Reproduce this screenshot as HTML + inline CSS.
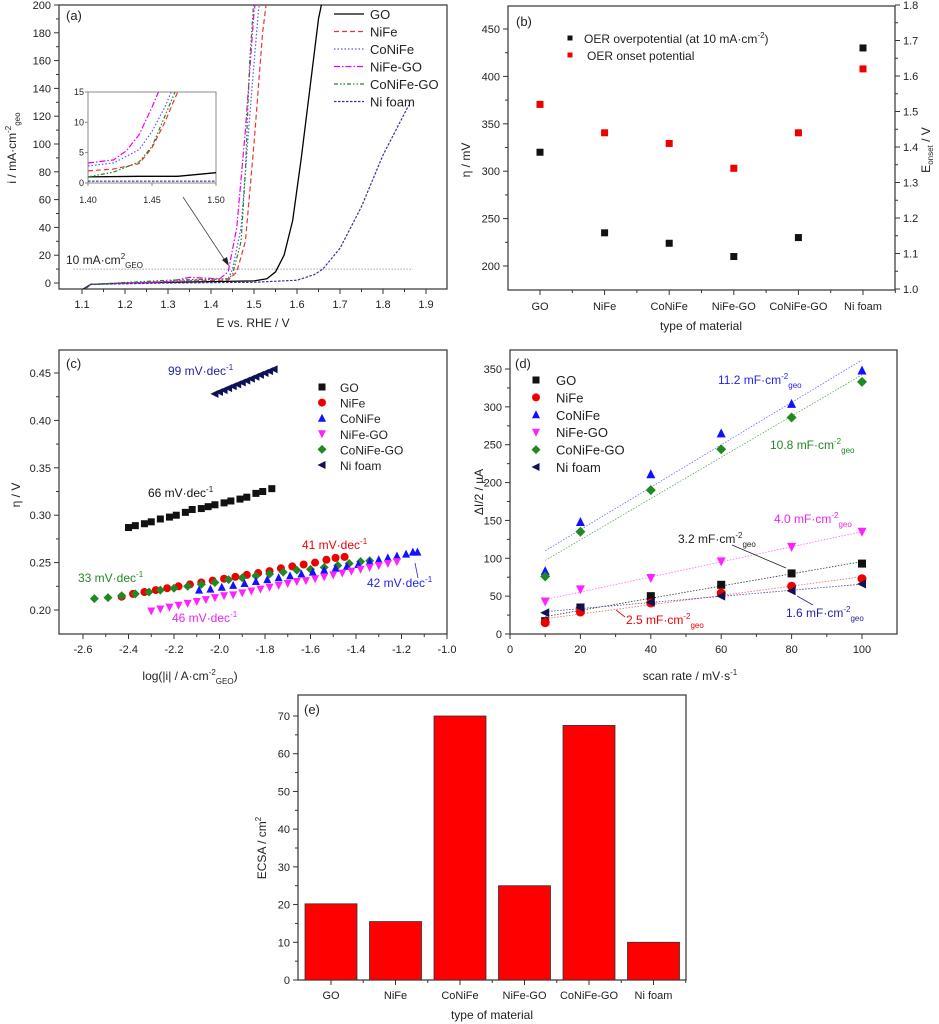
<!DOCTYPE html>
<html><head><meta charset="utf-8">
<style>
html,body{margin:0;padding:0;background:#fff;}
svg{display:block;font-family:"Liberation Sans",sans-serif;}
</style></head>
<body>
<svg id="fig" width="939" height="1024" viewBox="0 0 939 1024">
</svg>
<script>
// ---------- Panel (a) data ----------
const aGO_E   =[1.10,1.12,1.20,1.40,1.50,1.53,1.55,1.57,1.59,1.61,1.63,1.65,1.66];
const aGO_i   =[-5,-1,0,1,1.5,3,8,20,45,90,140,190,205];
const aNiFe_E =[1.105,1.12,1.30,1.44,1.46,1.48,1.50,1.52,1.53];
const aNiFe_i =[-5,-1,1,2,8,30,100,180,205];
const aCoNiFe_E=[1.105,1.12,1.30,1.44,1.45,1.47,1.49,1.51,1.515];
const aCoNiFe_i=[-5,-1,1,3,10,40,120,195,205];
const aNiFeGO_E=[1.105,1.12,1.30,1.35,1.42,1.44,1.46,1.48,1.50,1.505];
const aNiFeGO_i=[-5,-1,1,4,3,8,40,110,195,205];
const aCoNiFeGO_E=[1.105,1.12,1.30,1.44,1.45,1.47,1.48,1.49,1.50];
const aCoNiFeGO_i=[-5,-1,2,3,6,30,80,160,205];
const aNiFoam_E=[1.105,1.12,1.30,1.50,1.60,1.64,1.66,1.70,1.75,1.80,1.86];
const aNiFoam_i=[-5,-1,0,0.5,2,6,10,25,55,92,128];
// inset data
const inGO_E=[1.40,1.44,1.47,1.50]; const inGO_i=[1.0,1.1,1.1,1.7];
const inNiFe_E=[1.40,1.42,1.44,1.45,1.46,1.47]; const inNiFe_i=[2.0,2.3,3.2,5.8,10,15];
const inCoNiFe_E=[1.40,1.42,1.44,1.45,1.46,1.465]; const inCoNiFe_i=[2.8,3.3,5.5,8.5,12.5,15];
const inNiFeGO_E=[1.40,1.42,1.43,1.44,1.45,1.455]; const inNiFeGO_i=[3.3,3.8,5.3,8,12.5,15];
const inCoNiFeGO_E=[1.40,1.42,1.44,1.45,1.46,1.468]; const inCoNiFeGO_i=[1.0,1.8,3.5,6,11,15];
const inNiFoam_E=[1.40,1.50]; const inNiFoam_i=[0.3,0.3];
// ---------- Panel (b) data ----------
const bCategories=["GO","NiFe","CoNiFe","NiFe-GO","CoNiFe-GO","Ni foam"];
const bOverpotential=[320,235,224,210,230,430];
const bOnset=[1.52,1.44,1.41,1.34,1.44,1.62];
// ---------- Panel (c) data ----------
const cGO_x=[-2.40,-2.37,-2.33,-2.30,-2.26,-2.22,-2.19,-2.15,-2.12,-2.08,-2.05,-2.02,-1.98,-1.95,-1.91,-1.88,-1.84,-1.81,-1.77];
const cGO_y=[.287,.289,.291,.293,.296,.298,.300,.303,.306,.307,.309,.311,.313,.315,.317,.319,.323,.325,.328];
const cNiFoam_x=[-2.02,-2.0,-1.98,-1.96,-1.94,-1.92,-1.90,-1.88,-1.86,-1.84,-1.82,-1.80,-1.78,-1.76];
const cNiFoam_y=[.428,.430,.432,.434,.436,.438,.440,.442,.444,.446,.448,.450,.452,.454];
const cNiFe_x=[-2.43,-2.38,-2.33,-2.28,-2.23,-2.18,-2.13,-2.08,-2.03,-1.98,-1.93,-1.88,-1.83,-1.78,-1.73,-1.68,-1.63,-1.58,-1.53,-1.49,-1.45];
const cNiFe_y=[.214,.217,.219,.221,.223,.225,.227,.229,.231,.233,.235,.237,.239,.241,.244,.246,.248,.250,.253,.255,.256];
const cCoNiFeGO_x=[-2.55,-2.49,-2.43,-2.37,-2.31,-2.26,-2.20,-2.14,-2.08,-2.02,-1.96,-1.90,-1.84,-1.78,-1.72,-1.66,-1.60,-1.54,-1.48,-1.43,-1.38,-1.34];
const cCoNiFeGO_y=[.212,.213,.215,.217,.219,.221,.223,.225,.227,.229,.232,.234,.236,.238,.240,.242,.243,.245,.247,.249,.251,.252];
const cCoNiFe_x=[-2.09,-2.04,-1.99,-1.94,-1.89,-1.84,-1.79,-1.74,-1.69,-1.64,-1.59,-1.54,-1.49,-1.44,-1.39,-1.34,-1.30,-1.26,-1.22,-1.18,-1.15,-1.13];
const cCoNiFe_y=[.221,.222,.224,.226,.228,.230,.232,.234,.236,.238,.240,.242,.244,.246,.248,.251,.253,.255,.257,.259,.261,.261];
const cNiFeGO_x=[-2.30,-2.26,-2.22,-2.18,-2.14,-2.10,-2.06,-2.02,-1.98,-1.94,-1.90,-1.86,-1.82,-1.78,-1.74,-1.70,-1.66,-1.62,-1.58,-1.54,-1.50,-1.46,-1.42,-1.38,-1.34,-1.30,-1.26,-1.22];
const cNiFeGO_y=[.199,.201,.203,.205,.207,.209,.211,.213,.215,.216,.218,.220,.222,.224,.226,.228,.230,.231,.233,.235,.237,.239,.241,.243,.245,.247,.249,.251];
// ---------- Panel (d) data ----------
const dScanRates=[10,20,40,60,80,100];
const dGO=[17,35,50,65,80,93];
const dNiFe=[15,29,41,54,63,73];
const dCoNiFe=[83,148,211,265,304,348];
const dNiFeGO=[43,59,74,96,115,135];
const dCoNiFeGO=[76,135,190,244,286,333];
const dNiFoam=[28,35,42,50,57,66];
// ---------- Panel (e) data ----------
const eCategories=["GO","NiFe","CoNiFe","NiFe-GO","CoNiFe-GO","Ni foam"];
const eECSA=[20.2,15.5,70,25,67.5,10];

const svg=document.getElementById('fig');
const NS='http://www.w3.org/2000/svg';
function mk(tag,attrs,name,parent){
  const el=document.createElementNS(NS,tag);
  for(const k in attrs) el.setAttribute(k,attrs[k]);
  
  
  (parent||svg).appendChild(el);
  return el;
}
function txt(x,y,s,name,opts){
  opts=opts||{};
  const t=mk('text',{x:x,y:y,'font-size':opts.size||12,fill:opts.fill||'#222','text-anchor':opts.anchor||'middle'},name,opts.parent);
  if(opts.rot) t.setAttribute('transform','rotate(-90 '+x+' '+y+')');
  t.innerHTML=s;
  return t;
}
function lin(d0,d1,p0,p1){return v=>p0+(v-d0)*(p1-p0)/(d1-d0);}

function frame(x0,y0,x1,y1,name){
  mk('rect',{x:x0,y:y0,width:x1-x0,height:y1-y0,fill:'none',stroke:'#333','stroke-width':1.2},name);
}
function xTicks(sx,yb,min,max,step,minor,fmt,name,size){
  for(let v=min;v<=max+1e-9;v+=minor){
    const isMaj=Math.abs((v-min)/step-Math.round((v-min)/step))<1e-6;
    const x=sx(v);
    mk('line',{x1:x,y1:yb,x2:x,y2:yb+(isMaj?5:3),stroke:'#333','stroke-width':1},name+'-tick');
    if(isMaj) txt(x,yb+19,fmt(v),name+'-label',{size:size||11});
  }
}
function yTicks(sy,xl,min,max,step,minor,fmt,name,right){
  for(let v=min;v<=max+1e-9;v+=minor){
    const isMaj=Math.abs((v-min)/step-Math.round((v-min)/step))<1e-6;
    const y=sy(v);
    const d=right?1:-1;
    mk('line',{x1:xl,y1:y,x2:xl+d*(isMaj?5:3),y2:y,stroke:'#333','stroke-width':1},name+'-tick');
    if(isMaj) txt(xl+d*8,y+4,fmt(v),name+'-label',{size:11,anchor:right?'start':'end'});
  }
}
function polyline(xs,ys,sx,sy,style,name,clip){
  let d='';
  for(let i=0;i<xs.length;i++) d+=(i?'L':'M')+sx(xs[i]).toFixed(1)+','+sy(ys[i]).toFixed(1);
  const p=mk('path',Object.assign({d:d,fill:'none'},style),name);
  if(clip) p.setAttribute('clip-path','url(#'+clip+')');
  return p;
}
function marker(shape,x,y,color,s,name){
  s=s||4;
  if(shape==='sq') return mk('rect',{x:x-s,y:y-s,width:2*s,height:2*s,fill:color},name);
  if(shape==='ci') return mk('circle',{cx:x,cy:y,r:s+0.5,fill:color},name);
  let pts;
  if(shape==='up') pts=[[x,y-s-1],[x+s+0.5,y+s],[x-s-0.5,y+s]];
  if(shape==='dn') pts=[[x,y+s+1],[x+s+0.5,y-s],[x-s-0.5,y-s]];
  if(shape==='di') pts=[[x,y-s-1],[x+s+1,y],[x,y+s+1],[x-s-1,y]];
  if(shape==='lt') pts=[[x-s-1,y],[x+s,y-s-0.5],[x+s,y+s+0.5]];
  return mk('polygon',{points:pts.map(p=>p.join(',')).join(' '),fill:color},name);
}
const defs=mk('defs',{},'defs');
function clipRect(id,x,y,w,h){
  const c=mk('clipPath',{id:id},'clip',defs);
  mk('rect',{x:x,y:y,width:w,height:h},'clip-rect',c);
}

// ================= Panel (a) =================
{
  const sx=lin(1.1,1.9,82,426), sy=lin(0,200,283,5);
  clipRect('clipA',59,5,388,284);
  frame(59,5,447,289,'panel-a-frame');
  xTicks(sx,289,1.1,1.9,0.1,0.05,v=>v.toFixed(1),'a-x-axis');
  yTicks(sy,59,0,200,20,10,v=>v.toFixed(0),'a-y-axis');
  txt(253,327,'E vs. RHE / V','a-x-axis-title',{size:12});
  txt(16,148,'i / mA·cm<tspan font-size="8" dy="-5">-2</tspan><tspan font-size="8" dy="9">geo</tspan>','a-y-axis-title',{size:12,rot:true});
  txt(66,20,'(a)','a-panel-label',{size:13,anchor:'start'});
  mk('line',{x1:sx(1.08),y1:sy(10),x2:sx(1.87),y2:sy(10),stroke:'#888','stroke-width':0.8,'stroke-dasharray':'1.5,1.5'},'a-10ma-line');
  txt(66,264,'10 mA·cm<tspan font-size="8" dy="-5">2</tspan><tspan font-size="8" dy="9">GEO</tspan>','a-10ma-label',{size:12,anchor:'start'});
  const S=[
    [aGO_E,aGO_i,{stroke:'#000','stroke-width':1.3},'GO'],
    [aNiFe_E,aNiFe_i,{stroke:'#e33','stroke-width':1.2,'stroke-dasharray':'5,3'},'NiFe'],
    [aCoNiFe_E,aCoNiFe_i,{stroke:'#55f','stroke-width':1.2,'stroke-dasharray':'1.5,2'},'CoNiFe'],
    [aNiFeGO_E,aNiFeGO_i,{stroke:'#e0e','stroke-width':1.2,'stroke-dasharray':'6,2,1.5,2'},'NiFe-GO'],
    [aCoNiFeGO_E,aCoNiFeGO_i,{stroke:'#282','stroke-width':1.2,'stroke-dasharray':'4,2,1.5,2,1.5,2'},'CoNiFe-GO'],
    [aNiFoam_E,aNiFoam_i,{stroke:'#339','stroke-width':1.2,'stroke-dasharray':'2.5,1.5'},'Ni foam']
  ];
  S.forEach((s,k)=>{
    polyline(s[0],s[1],sx,sy,s[2],'a-curve-'+s[3].toLowerCase().replace(' ','-'),'clipA');
    const ly=14+k*17.5;
    mk('line',Object.assign({x1:334,y1:ly,x2:364,y2:ly},s[2]),'a-legend-swatch');
    txt(370,ly+5,s[3],'a-legend-entry',{size:13,anchor:'start'});
  });
  // inset
  const ix=lin(1.40,1.50,88,216), iy=lin(0,15,183,92);
  clipRect('clipIn',88,92,128,91);
  mk('rect',{x:88,y:92,width:128,height:91,fill:'#fff',stroke:'#888','stroke-width':1},'inset-frame');
  [1.40,1.45,1.50].forEach(v=>{txt(ix(v),203,v.toFixed(2),'inset-x-label',{size:9});
    mk('line',{x1:ix(v),y1:183,x2:ix(v),y2:186,stroke:'#888'},'inset-x-tick');});
  [0,5,10,15].forEach(v=>{txt(84,iy(v)+3,String(v),'inset-y-label',{size:9,anchor:'end'});
    mk('line',{x1:85,y1:iy(v),x2:88,y2:iy(v),stroke:'#888'},'inset-y-tick');});
  const I=[[inGO_E,inGO_i,S[0]],[inNiFe_E,inNiFe_i,S[1]],[inCoNiFe_E,inCoNiFe_i,S[2]],[inNiFeGO_E,inNiFeGO_i,S[3]],[inCoNiFeGO_E,inCoNiFeGO_i,S[4]],[inNiFoam_E,inNiFoam_i,S[5]]];
  I.forEach(s=>polyline(s[0],s[1],ix,iy,s[2][2],'inset-curve','clipIn'));
  mk('line',{x1:183,y1:197,x2:226,y2:262,stroke:'#444','stroke-width':0.8},'inset-arrow');
  mk('polygon',{points:'229,266 222,260 227,257',fill:'#222'},'inset-arrowhead');
}

// ================= Panel (b) =================
{
  const sy=lin(200,450,266,29), sy2=lin(1.0,1.8,289,5);
  const sx=i=>540+i*64.6;
  frame(508,6,895,290,'panel-b-frame');
  yTicks(sy,508,200,450,50,25,v=>v.toFixed(0),'b-left-axis');
  yTicks(sy2,895,1.0,1.8,0.1,0.05,v=>v.toFixed(1),'b-right-axis',true);
  for(let i=0;i<bCategories.length;i++){
    mk('line',{x1:sx(i),y1:290,x2:sx(i),y2:295,stroke:'#333'},'b-x-tick');
    mk('line',{x1:sx(i)+32.3,y1:290,x2:sx(i)+32.3,y2:293,stroke:'#333'},'b-x-minor-tick');
    txt(sx(i),310,bCategories[i],'b-x-label',{size:11});
  }
  txt(701,330,'type of material','b-x-axis-title',{size:12});
  txt(470,160,'η / mV','b-y-axis-title',{size:12,rot:true});
  txt(930,150,'E<tspan font-size="8" dy="3">onset</tspan><tspan dy="-3"> / V</tspan>','b-right-axis-title',{size:12,rot:true});
  txt(516,26,'(b)','b-panel-label',{size:13,anchor:'start'});
  bOverpotential.forEach((v,i)=>marker('sq',sx(i),sy(v),'#111',3.5,'b-overpotential-point'));
  bOnset.forEach((v,i)=>marker('sq',sx(i),sy2(v),'#e00',3.5,'b-onset-point'));
  marker('sq',570,38,'#111',2.5,'b-legend-swatch');
  txt(584,43,'OER overpotential (at 10 mA·cm<tspan font-size="8" dy="-5">-2</tspan><tspan dy="5">)</tspan>','b-legend-entry',{size:12,anchor:'start'});
  marker('sq',570,55,'#e00',2.5,'b-legend-swatch');
  txt(587,60,'OER onset potential','b-legend-entry',{size:12,anchor:'start'});
}

// ================= Panel (c) =================
{
  const sx=lin(-2.6,-1.0,83,447), sy=lin(0.20,0.45,610,373);
  frame(59,350,447,634,'panel-c-frame');
  xTicks(sx,634,-2.6,-1.0,0.2,0.1,v=>v.toFixed(1),'c-x-axis');
  yTicks(sy,59,0.20,0.45,0.05,0.025,v=>v.toFixed(2),'c-y-axis');
  txt(190,680,'log(|i| / A·cm<tspan font-size="8" dy="-5">-2</tspan><tspan font-size="8" dy="9">GEO</tspan><tspan dy="-4">)</tspan>','c-x-axis-title',{size:12});
  txt(20,495,'η / V','c-y-axis-title',{size:12,rot:true});
  txt(66,368,'(c)','c-panel-label',{size:13,anchor:'start'});
  const C=[
    [cGO_x,cGO_y,'sq','#111','GO'],[cNiFe_x,cNiFe_y,'ci','#e00','NiFe'],
    [cCoNiFeGO_x,cCoNiFeGO_y,'di','#282','CoNiFe-GO'],
    [cCoNiFe_x,cCoNiFe_y,'up','#11f','CoNiFe'],[cNiFeGO_x,cNiFeGO_y,'dn','#f2f','NiFe-GO'],
    [cNiFoam_x,cNiFoam_y,'lt','#115','Ni foam']];
  C.forEach(s=>{for(let i=0;i<s[0].length;i++) marker(s[2],sx(s[0][i]),sy(s[1][i]),s[3],3.5,'c-point-'+s[4].toLowerCase().replace(' ','-'));});
  const order=['GO','NiFe','CoNiFe','NiFe-GO','CoNiFe-GO','Ni foam'];
  order.forEach((n,k)=>{const s=C.find(c=>c[4]===n);const ly=387+k*15.6;
    marker(s[2],322,ly,s[3],3.5,'c-legend-swatch');
    txt(340,ly+5,n,'c-legend-entry',{size:12,anchor:'start'});});
  txt(168,375,'99 mV·dec<tspan font-size="8" dy="-5">-1</tspan>','c-annot-nifoam',{size:12,fill:'#22a',anchor:'start'});
  txt(148,497,'66 mV·dec<tspan font-size="8" dy="-5">-1</tspan>','c-annot-go',{size:12,fill:'#111',anchor:'start'});
  txt(302,549,'41 mV·dec<tspan font-size="8" dy="-5">-1</tspan>','c-annot-nife',{size:12,fill:'#e00',anchor:'start'});
  txt(78,582,'33 mV·dec<tspan font-size="8" dy="-5">-1</tspan>','c-annot-conifego',{size:12,fill:'#282',anchor:'start'});
  txt(367,587,'42 mV·dec<tspan font-size="8" dy="-5">-1</tspan>','c-annot-conife',{size:12,fill:'#22e',anchor:'start'});
  txt(172,622,'46 mV·dec<tspan font-size="8" dy="-5">-1</tspan>','c-annot-nifego',{size:12,fill:'#e2e',anchor:'start'});
  mk('line',{x1:418,y1:578,x2:415,y2:563,stroke:'#22e','stroke-width':0.8},'c-annot-arrow');
}

// ================= Panel (d) =================
{
  const sx=lin(0,100,510,862), sy=lin(0,350,634,369);
  frame(510,350,897,634,'panel-d-frame');
  xTicks(sx,634,0,100,20,10,v=>v.toFixed(0),'d-x-axis');
  yTicks(sy,510,0,350,50,25,v=>v.toFixed(0),'d-y-axis');
  txt(690,680,'scan rate / mV·s<tspan font-size="8" dy="-5">-1</tspan>','d-x-axis-title',{size:12});
  txt(483,492,'ΔI/2 / µA','d-y-axis-title',{size:12,rot:true});
  txt(515,368,'(d)','d-panel-label',{size:13,anchor:'start'});
  const D=[[dGO,'sq','#111','GO','#333'],[dNiFe,'ci','#e00','NiFe','#e66'],[dCoNiFe,'up','#11f','CoNiFe','#66f'],
    [dNiFeGO,'dn','#f2f','NiFe-GO','#f6f'],[dCoNiFeGO,'di','#282','CoNiFe-GO','#5a5'],[dNiFoam,'lt','#115','Ni foam','#449']];
  D.forEach((s,k)=>{
    const ys=s[0], n=ys.length;
    let mx=0,my=0; for(let i=0;i<n;i++){mx+=dScanRates[i];my+=ys[i];} mx/=n;my/=n;
    let sxy=0,sxx=0; for(let i=0;i<n;i++){sxy+=(dScanRates[i]-mx)*(ys[i]-my);sxx+=(dScanRates[i]-mx)**2;}
    const b=sxy/sxx,a=my-b*mx;
    mk('line',{x1:sx(10),y1:sy(a+b*10),x2:sx(100),y2:sy(a+b*100),stroke:s[4],'stroke-width':0.8,'stroke-dasharray':'1.5,1.5'},'d-fit-line');
    for(let i=0;i<n;i++) marker(s[1],sx(dScanRates[i]),sy(ys[i]),s[2],4,'d-point-'+s[3].toLowerCase().replace(' ','-'));
    const ly=380+k*17.4;
    marker(s[1],536,ly,s[2],3.5,'d-legend-swatch');
    txt(556,ly+5,s[3],'d-legend-entry',{size:13,anchor:'start'});
  });
  txt(718,384,'11.2 mF·cm<tspan font-size="8" dy="-5">-2</tspan><tspan font-size="8" dy="9">geo</tspan>','d-annot-conife',{size:12,fill:'#22e',anchor:'start'});
  txt(770,449,'10.8 mF·cm<tspan font-size="8" dy="-5">-2</tspan><tspan font-size="8" dy="9">geo</tspan>','d-annot-conifego',{size:12,fill:'#282',anchor:'start'});
  txt(774,523,'4.0 mF·cm<tspan font-size="8" dy="-5">-2</tspan><tspan font-size="8" dy="9">geo</tspan>','d-annot-nifego',{size:12,fill:'#e2e',anchor:'start'});
  txt(678,543,'3.2 mF·cm<tspan font-size="8" dy="-5">-2</tspan><tspan font-size="8" dy="9">geo</tspan>','d-annot-go',{size:12,fill:'#222',anchor:'start'});
  txt(626,624,'2.5 mF·cm<tspan font-size="8" dy="-5">-2</tspan><tspan font-size="8" dy="9">geo</tspan>','d-annot-nife',{size:12,fill:'#e00',anchor:'start'});
  txt(786,617,'1.6 mF·cm<tspan font-size="8" dy="-5">-2</tspan><tspan font-size="8" dy="9">geo</tspan>','d-annot-nifoam',{size:12,fill:'#22a',anchor:'start'});
  mk('line',{x1:732,y1:545,x2:786,y2:568,stroke:'#222','stroke-width':0.8},'d-arrow-go');
  mk('line',{x1:625,y1:617,x2:616,y2:610,stroke:'#e00','stroke-width':0.8},'d-arrow-nife');
  mk('line',{x1:813,y1:605,x2:797,y2:596,stroke:'#22a','stroke-width':0.8},'d-arrow-nifoam');
}

// ================= Panel (e) =================
{
  const sy=lin(0,70,980,716);
  const sx=i=>331+i*64.5;
  frame(298,695,686,980,'panel-e-frame');
  yTicks(sy,298,0,70,10,5,v=>v.toFixed(0),'e-y-axis');
  eECSA.forEach((v,i)=>{
    mk('rect',{x:sx(i)-26,y:sy(v),width:52,height:980-sy(v),fill:'#ff0000',stroke:'#333','stroke-width':0.8},'e-bar-'+eCategories[i].toLowerCase().replace(' ','-'));
  });
  for(let i=0;i<eCategories.length;i++){
    mk('line',{x1:sx(i),y1:980,x2:sx(i),y2:985,stroke:'#333'},'e-x-tick');
    mk('line',{x1:sx(i)+32.25,y1:980,x2:sx(i)+32.25,y2:983,stroke:'#333'},'e-x-minor-tick');
    txt(sx(i),999,eCategories[i],'e-x-label',{size:11});
  }
  txt(492,1019,'type of material','e-x-axis-title',{size:12});
  txt(266,848,'ECSA / cm<tspan font-size="8" dy="-5">2</tspan>','e-y-axis-title',{size:12,rot:true});
  txt(304,714,'(e)','e-panel-label',{size:13,anchor:'start'});
}
</script>
</body></html>
